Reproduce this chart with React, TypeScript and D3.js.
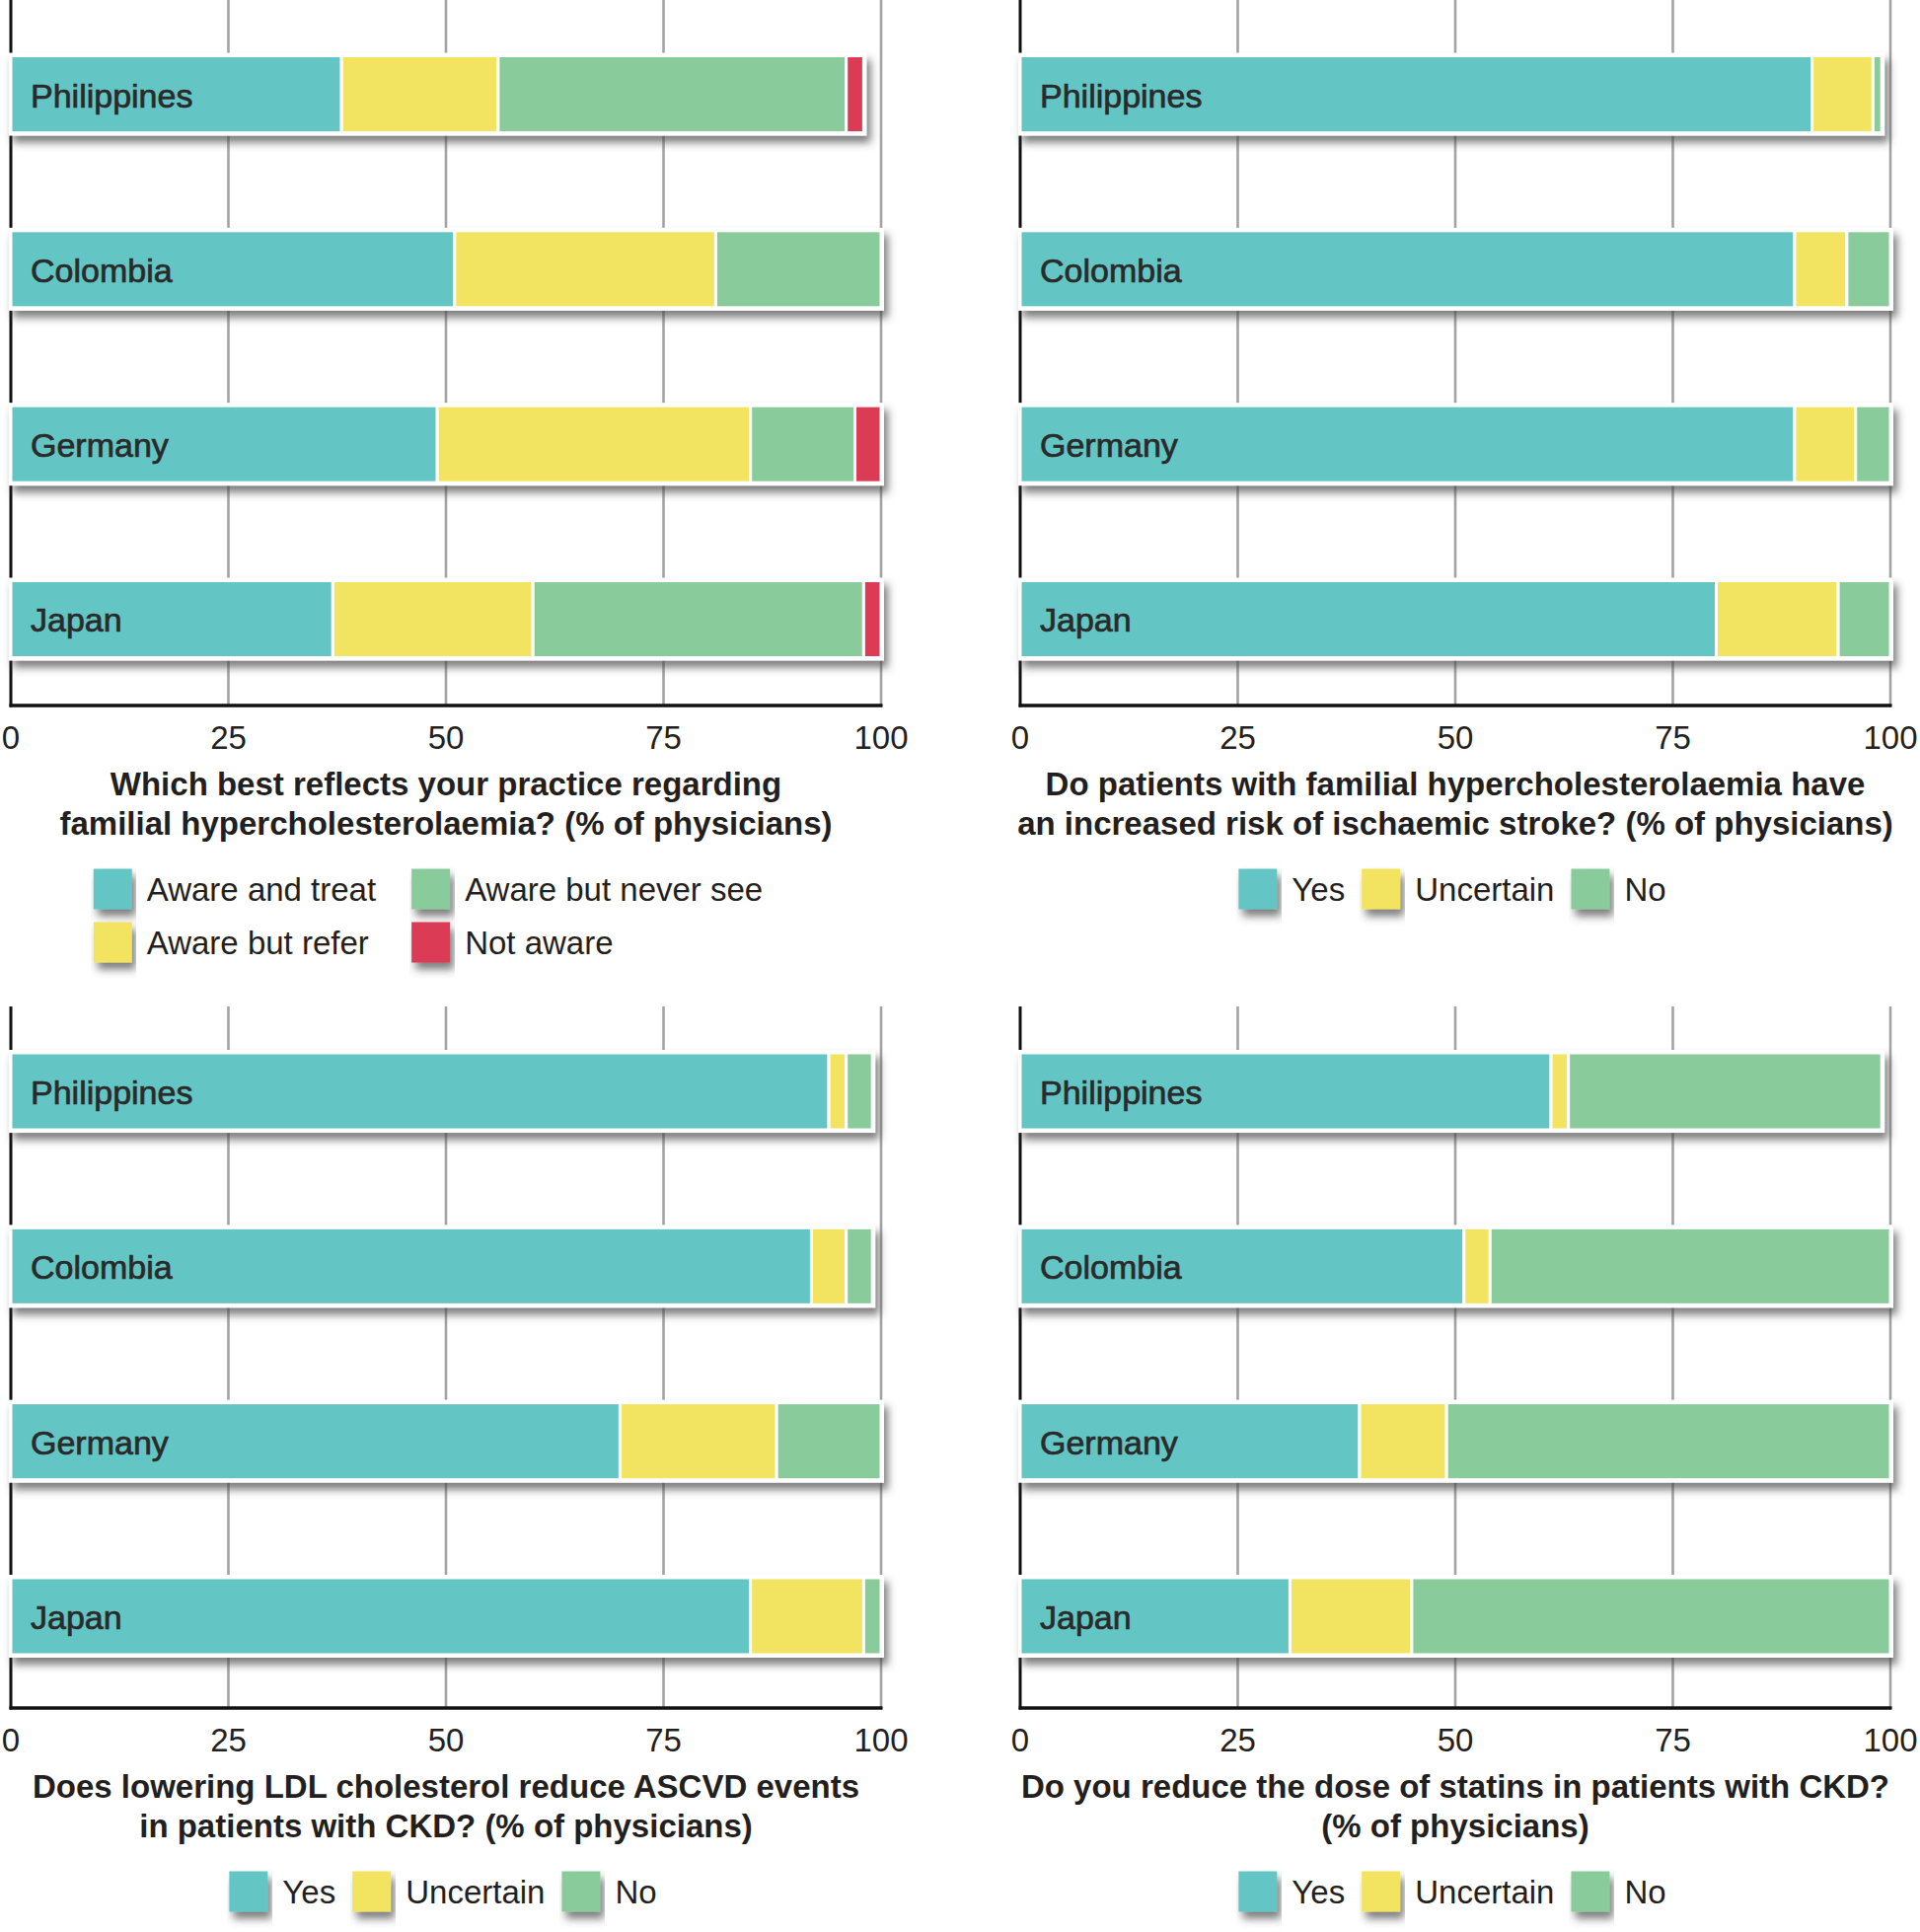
import React, { useRef, useEffect } from "react";
import * as d3 from "d3";

// --- data ---
const countries = ["Philippines", "Colombia", "Germany", "Japan"];
const tickValues = [0, 25, 50, 75, 100];

// panel 1: practice regarding familial hypercholesterolaemia
const awareTreat = [38, 51, 49, 37];
const awareRefer = [18, 30, 36, 23];
const awareNeverSee = [40, 19, 12, 38];
const notAware = [2, 0, 3, 2];

// panel 2: FH and ischaemic stroke risk
const strokeYes = [91, 89, 89, 80];
const strokeUncertain = [7, 6, 7, 14];
const strokeNo = [1, 5, 4, 6];

// panel 3: LDL lowering and ASCVD events in CKD
const ldlYes = [94, 92, 70, 85];
const ldlUncertain = [2, 4, 18, 13];
const ldlNo = [3, 3, 12, 2];

// panel 4: statin dose reduction in CKD
const doseYes = [61, 51, 39, 31];
const doseUncertain = [2, 3, 10, 14];
const doseNo = [36, 46, 51, 55];

const TEAL = "#63c5c4";
const YELLOW = "#f2e361";
const GREEN = "#8acb9b";
const RED = "#dc3a56";
const INK = "#231f20";
const FONT = "'Liberation Sans', Arial, sans-serif";

const panels = [
  {
    left: 11, axisY: 715, gridTop: 0, barTop: 56.5,
    title: ["Which best reflects your practice regarding", "familial hypercholesterolaemia? (% of physicians)"],
    series: [
      { name: "Aware and treat", values: awareTreat, color: TEAL },
      { name: "Aware but refer", values: awareRefer, color: YELLOW },
      { name: "Aware but never see", values: awareNeverSee, color: GREEN },
      { name: "Not aware", values: notAware, color: RED },
    ],
    legendCols: [[0, 1], [2, 3]],
  },
  {
    left: 1034, axisY: 715, gridTop: 0, barTop: 56.5,
    title: ["Do patients with familial hypercholesterolaemia have", "an increased risk of ischaemic stroke? (% of physicians)"],
    series: [
      { name: "Yes", values: strokeYes, color: TEAL },
      { name: "Uncertain", values: strokeUncertain, color: YELLOW },
      { name: "No", values: strokeNo, color: GREEN },
    ],
  },
  {
    left: 11, axisY: 1731, gridTop: 1020, barTop: 1067,
    title: ["Does lowering LDL cholesterol reduce ASCVD events", "in patients with CKD? (% of physicians)"],
    series: [
      { name: "Yes", values: ldlYes, color: TEAL },
      { name: "Uncertain", values: ldlUncertain, color: YELLOW },
      { name: "No", values: ldlNo, color: GREEN },
    ],
  },
  {
    left: 1034, axisY: 1731, gridTop: 1020, barTop: 1067,
    title: ["Do you reduce the dose of statins in patients with CKD?", "(% of physicians)"],
    series: [
      { name: "Yes", values: doseYes, color: TEAL },
      { name: "Uncertain", values: doseUncertain, color: YELLOW },
      { name: "No", values: doseNo, color: GREEN },
    ],
  },
];

const PLOT_W = 882;
const SW_W = 39;
const SW_H = 41;

const drawChart = (element: SVGSVGElement) => {
  const svg = d3.select(element);
  svg.selectAll("*").remove();

  const defs = svg.append("defs");
  const f = defs.append("filter").attr("id", "shadow")
    .attr("x", "-5%").attr("y", "-30%").attr("width", "115%").attr("height", "180%");
  f.append("feDropShadow").attr("dx", 4).attr("dy", 7).attr("stdDeviation", 4)
    .attr("flood-color", "#444").attr("flood-opacity", 0.7);

  panels.forEach(p => {
    const g = svg.append("g");
    const x = d3.scaleLinear().domain([0, 100]).range([p.left, p.left + PLOT_W]);
    const y = d3.scaleBand().domain(countries)
      .range([p.barTop - 50, p.barTop + 660])
      .paddingInner(0.56).paddingOuter(0.282);

    // grid lines
    g.selectAll(".grid").data(tickValues.slice(1)).enter().append("line")
      .attr("x1", d => x(d)).attr("x2", d => x(d))
      .attr("y1", p.gridTop).attr("y2", p.axisY)
      .attr("stroke", "#a3a3a3").attr("stroke-width", 2.6);

    // axes
    g.append("line").attr("x1", x(0)).attr("x2", x(0))
      .attr("y1", p.gridTop).attr("y2", p.axisY + 1.5)
      .attr("stroke", "#111").attr("stroke-width", 3);
    g.append("line").attr("x1", x(0) - 1.5).attr("x2", x(100) + 1.5)
      .attr("y1", p.axisY).attr("y2", p.axisY)
      .attr("stroke", "#111").attr("stroke-width", 3.5);

    // stacked bars
    countries.forEach((c, i) => {
      const bw = y.bandwidth();
      const y0 = y(c) as number;
      const total = d3.sum(p.series, s => s.values[i]);
      const bar = g.append("g").attr("filter", "url(#shadow)");
      bar.append("rect")
        .attr("x", x(0) - 2).attr("y", y0 - 3)
        .attr("width", x(total) - x(0) + 5).attr("height", bw + 6)
        .attr("fill", "#fff");
      let acc = 0;
      p.series.forEach(s => {
        const v = s.values[i];
        if (v > 0) {
          bar.append("rect")
            .attr("x", x(acc)).attr("y", y0)
            .attr("width", x(acc + v) - x(acc)).attr("height", bw)
            .attr("fill", s.color).attr("stroke", "#fff").attr("stroke-width", 3);
        }
        acc += v;
      });
      g.append("text").attr("x", x(0) + 20).attr("y", y0 + bw / 2 + 13)
        .attr("font-family", FONT).attr("font-size", 34)
        .attr("fill", "#2a2a2a").attr("stroke", "#2a2a2a").attr("stroke-width", 0.7)
        .text(c);
    });

    // tick labels
    g.selectAll(".tick").data(tickValues).enter().append("text")
      .attr("x", d => x(d)).attr("y", p.axisY + 32)
      .attr("text-anchor", "middle").attr("dominant-baseline", "central")
      .attr("font-family", FONT).attr("font-size", 33).attr("fill", INK)
      .text(d => d);

    // title
    const cx = x(50);
    p.title.forEach((line, k) => {
      g.append("text").attr("x", cx).attr("y", p.axisY + 79 + k * 40)
        .attr("text-anchor", "middle").attr("dominant-baseline", "central")
        .attr("font-family", FONT).attr("font-size", 33).attr("font-weight", 700)
        .attr("fill", INK).text(line);
    });

    // legend
    const ly = p.axisY + 186;
    const lg = g.append("g");
    const addItem = (s, lx: number, cy: number) => {
      lg.append("rect").attr("x", lx).attr("y", cy - SW_H / 2)
        .attr("width", SW_W).attr("height", SW_H).attr("fill", s.color)
        .attr("filter", "url(#shadow)");
      const t = lg.append("text").attr("x", lx + SW_W + 15).attr("y", cy)
        .attr("dominant-baseline", "central")
        .attr("font-family", FONT).attr("font-size", 33).attr("fill", INK)
        .text(s.name);
      return SW_W + 15 + (t.node() as SVGTextElement).getComputedTextLength();
    };
    if (p.legendCols) {
      let lx = 0;
      p.legendCols.forEach(col => {
        let w = 0;
        col.forEach((si, r) => {
          w = Math.max(w, addItem(p.series[si], lx, ly + r * 54));
        });
        lx += w + 36;
      });
      const width = lx - 36;
      lg.attr("transform", `translate(${cx - width / 2 - 18}, 0)`);
    } else {
      let lx = 0;
      p.series.forEach(s => {
        lx += addItem(s, lx, ly) + 17;
      });
      const width = lx - 17;
      lg.attr("transform", `translate(${cx - width / 2 - 3}, 0)`);
    }
  });
};

const App = () => {
  const ref = useRef<SVGSVGElement>(null);
  useEffect(() => {
    if (ref.current) drawChart(ref.current);
  }, []);
  return (
    <div style={{ position: "absolute", left: 0, top: 0 }}>
      <svg ref={ref} width={1946} height={1958} style={{ display: "block", background: "#fff" }} />
    </div>
  );
};

export default App;
